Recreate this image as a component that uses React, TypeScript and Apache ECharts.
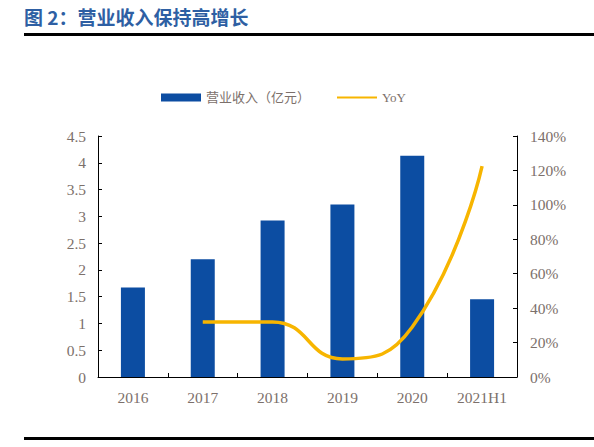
import { useRef, useEffect } from 'react';
import * as echarts from 'echarts';

const categories = ['2016', '2017', '2018', '2019', '2020', '2021H1'];
const revenue = [1.67, 2.2, 2.92, 3.22, 4.13, 1.45];
const yoy = [null, 32, 32, 10.5, 29, 122.5];

const TITLE = '图 2：营业收入保持高增长';
const BAR_NAME = '营业收入（亿元）';
const LINE_NAME = 'YoY';

const LABEL_COLOR = '#7c706b';
const SERIF = '"Liberation Serif", "Noto Sans CJK SC", serif';

export default function App() {
  const ref = useRef<HTMLDivElement>(null);

  useEffect(() => {
    if (!ref.current) return;
    const chart = echarts.init(ref.current, undefined, { renderer: 'svg', width: 594, height: 447 });

    const axisLabel = { color: LABEL_COLOR, fontSize: 15.5, fontFamily: SERIF };
    const axisLine = { show: true, lineStyle: { color: '#000', width: 1 } };
    const axisTick = { show: true, inside: true, length: 4, lineStyle: { color: '#000' } };

    chart.setOption({
      animation: false,
      backgroundColor: '#fff',
      graphic: [
        {
          type: 'text', left: 24, top: 7,
          style: { text: TITLE, font: 'bold 19px "Noto Sans CJK SC"', fill: '#2e5fa3' },
        },
        { type: 'rect', shape: { x: 24, y: 33, width: 570, height: 3 }, style: { fill: '#000' } },
        { type: 'rect', shape: { x: 24, y: 437, width: 570, height: 3 }, style: { fill: '#000' } },
      ],
      legend: {
        left: 161, top: 91, padding: 0,
        itemGap: 26, itemWidth: 40, itemHeight: 8,
        textStyle: { color: LABEL_COLOR, fontSize: 13, fontFamily: SERIF },
        data: [
          { name: BAR_NAME, icon: 'rect' },
          { name: LINE_NAME, itemStyle: { opacity: 0 } },
        ],
      },
      grid: { left: 98, right: 77, top: 136, bottom: 70, containLabel: false },
      xAxis: {
        type: 'category', data: categories,
        axisLine, axisTick,
        axisLabel: { ...axisLabel, margin: 13 },
      },
      yAxis: [
        {
          type: 'value', min: 0, max: 4.5, interval: 0.5,
          axisLine, axisTick,
          axisLabel: { ...axisLabel, margin: 12 },
          splitLine: { show: false },
        },
        {
          type: 'value', min: 0, max: 140, interval: 20,
          axisLine, axisTick,
          axisLabel: { ...axisLabel, margin: 13, formatter: '{value}%' },
          splitLine: { show: false },
        },
      ],
      series: [
        {
          type: 'bar', name: BAR_NAME, data: revenue,
          barWidth: 24,
          itemStyle: { color: '#0c4da2' },
        },
        {
          type: 'line', name: LINE_NAME, data: yoy, yAxisIndex: 1,
          smooth: 0.5, symbol: 'none',
          lineStyle: { color: '#f7b500', width: 3.5 },
          itemStyle: { color: '#f7b500' },
        },
      ],
    });

    return () => { chart.dispose(); };
  }, []);

  return (
    <div
      ref={ref}
      style={{ position: 'fixed', left: 0, top: 0, width: 594, height: 447, background: '#fff' }}
    />
  );
}
